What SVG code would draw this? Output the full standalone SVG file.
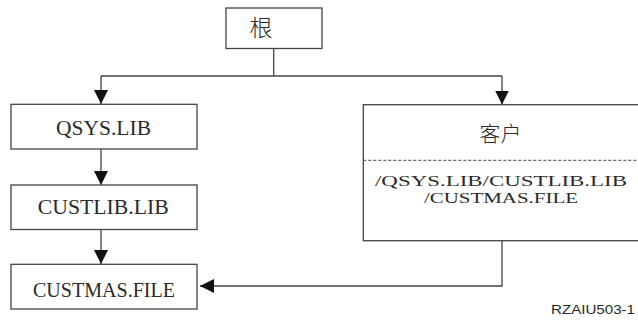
<svg xmlns="http://www.w3.org/2000/svg" width="638" height="321" viewBox="0 0 638 321">
<style>
.box{fill:#fff;stroke:#444;stroke-width:1.3}
.ln{fill:none;stroke:#444;stroke-width:1.3}
text{fill:#2a2a2a}
.t{text-anchor:middle}
.c{text-anchor:middle}
</style>
<defs>
<marker id="ah" viewBox="0 0 14 14" refX="14" refY="7" markerWidth="14" markerHeight="14" markerUnits="userSpaceOnUse" orient="auto">
<path d="M0,0 L14,7 L0,14 Z" fill="#111"/>
</marker>
</defs>
<rect width="638" height="321" fill="#fff"/>
<g id="connectors">
<path class="ln" d="M273.7,48.5 V76"/>
<path class="ln" d="M101,76 H502"/>
<path class="ln" d="M101,76 V104" marker-end="url(#ah)"/>
<path class="ln" d="M502,76 V104.5" marker-end="url(#ah)"/>
<path class="ln" d="M101,149 V185" marker-end="url(#ah)"/>
<path class="ln" d="M101,229.5 V264" marker-end="url(#ah)"/>
<path class="ln" d="M502,241 V286 H200" marker-end="url(#ah)"/>
</g>
<g id="root">
<rect class="box" x="226" y="8" width="96" height="40.5"/>
<text class="c" x="261" y="36" font-family="Noto Sans CJK SC, sans-serif" font-size="23" font-weight="300">根</text>
</g>
<g id="qsys">
<rect class="box" x="11" y="104.3" width="186" height="44.7"/>
<text class="t" x="103.5" y="135" font-family="Liberation Serif, DejaVu Serif, serif" font-size="20" textLength="95" lengthAdjust="spacingAndGlyphs">QSYS.LIB</text>
</g>
<g id="custlib">
<rect class="box" x="11" y="185" width="186" height="44.5"/>
<text class="t" x="103.3" y="214.3" font-family="Liberation Serif, DejaVu Serif, serif" font-size="20" textLength="131" lengthAdjust="spacingAndGlyphs">CUSTLIB.LIB</text>
</g>
<g id="custmas">
<rect class="box" x="11" y="264.3" width="186" height="44.7"/>
<text class="t" x="104" y="296.7" font-family="Liberation Serif, DejaVu Serif, serif" font-size="20" textLength="142" lengthAdjust="spacingAndGlyphs">CUSTMAS.FILE</text>
</g>
<g id="customer">
<rect class="box" x="363.3" y="104.7" width="290" height="136"/>
<line x1="363.3" y1="160.3" x2="638" y2="160.3" stroke="#444" stroke-width="1" stroke-dasharray="3,2"/>
<text class="c" x="500.5" y="140.5" font-family="Noto Sans CJK SC, sans-serif" font-size="21" font-weight="300">客户</text>
<text class="t" x="501" y="185.5" font-family="Liberation Serif, DejaVu Serif, serif" font-size="15.5" textLength="252" lengthAdjust="spacingAndGlyphs">/QSYS.LIB/CUSTLIB.LIB</text>
<text class="t" x="501" y="203" font-family="Liberation Serif, DejaVu Serif, serif" font-size="15.5" textLength="154" lengthAdjust="spacingAndGlyphs">/CUSTMAS.FILE</text>
</g>
<text x="551" y="314" font-family="Liberation Sans, Arial, sans-serif" font-size="13" textLength="84" lengthAdjust="spacingAndGlyphs">RZAIU503-1</text>
</svg>
